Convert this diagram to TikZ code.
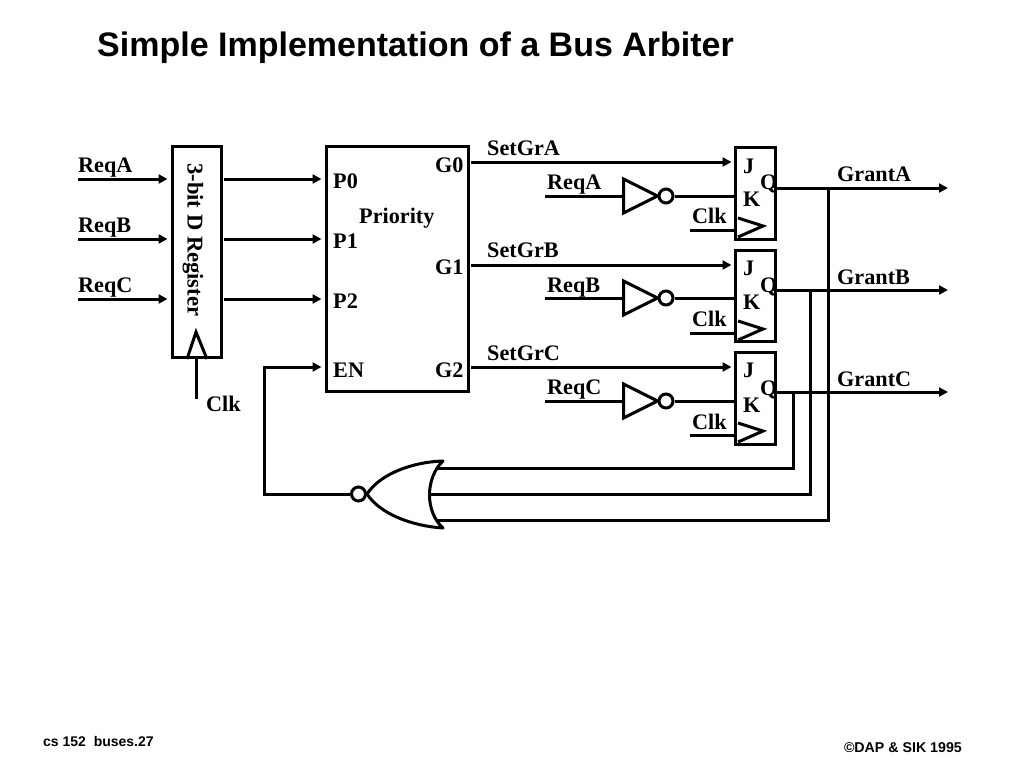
\documentclass[tikz,border=0pt]{standalone}
\usepackage{fontspec}
\setmainfont{Liberation Serif}
\newfontfamily\hvfont{Liberation Sans}
\usetikzlibrary{arrows.meta,shapes.geometric,calc}
\tikzset{
  wire/.style={line width=3pt,black},
  thinwire/.style={line width=3pt,black},
  arrowwire/.style={wire,-{Triangle[length=9pt,width=9pt]}},
  blockbox/.style={draw=black,line width=3pt,fill=white,rectangle,inner sep=0pt,minimum width=#1},
  lbl/.style={anchor=base west,inner sep=0pt,font=\fontsize{22.2}{26}\selectfont\bfseries},
  inverter/.style={draw=black,line width=3pt,isosceles triangle,isosceles triangle stretches,inner sep=0pt,minimum height=34pt,minimum width=34pt,anchor=west},
  bubble/.style={draw=black,line width=3pt,circle,inner sep=0pt,minimum size=14pt,fill=white},
  chevron/.style={line width=3pt,black,line join=miter}
}
\begin{document}
\begin{tikzpicture}[x=1pt,y=-1pt]
\useasboundingbox (0,0) rectangle (1024,768);
\node[anchor=base west,inner sep=0pt,font=\hvfont\bfseries\fontsize{34}{38}\selectfont] (title) at (97,56.5) {Simple Implementation of a Bus Arbiter};
% register and priority blocks
\node[blockbox=49pt,minimum height=211pt] (reg) at (196.5,251.5) {};
\node[blockbox=142pt,minimum height=245pt] (prio) at (397,268.5) {};
\node[lbl,rotate=-90,font=\fontsize{22.6}{26}\selectfont\bfseries] (regtxt) at (187.5,163) {3-bit D Register};
\node[lbl] (prioTxt) at (359,223) {Priority};
\coordinate (clkA) at (187,359);\coordinate (clkB) at (196,332);\coordinate (clkC) at (207,359);
\draw[chevron] (clkA) -- (clkB) -- (clkC);
\coordinate (regclk) at (196,399);
\draw[wire] (regclk) -- (196,359);
\node[lbl] (regclkl) at (206,411) {Clk};
% inputs to the register and on to the priority block
\foreach \n/\y/\ly/\pl/\ply in {A/179/172/P0/188,B/239/232/P1/248,C/299/292/P2/308}{
  \coordinate (in\n) at (78,\y);
  \coordinate (out\n) at (224,\y);
  \node[lbl] (inl\n) at (78,\ly) {Req\n};
  \node[lbl] (pl\n) at (333,\ply) {\pl};
  \draw[arrowwire,shorten >=3pt] (in\n) -- (in\n -| reg.west);
  \draw[arrowwire,shorten >=3pt] (out\n) -- (out\n -| prio.west);
}
\node[lbl] (enl) at (333,377) {EN};
\node[lbl] (g0) at (435,172) {G0};
\node[lbl] (g1) at (435,274) {G1};
\node[lbl] (g2) at (435,377) {G2};
% JK flip-flops
\foreach \n/\t/\h/\gy/\sy/\ry/\iy/\cy/\cl/\jy/\ky/\qy/\oy/\ol in {
  A/146/92/162/155/189/196/230/223/173/206/189/188/181,
  B/249/91/265/257/292/298/333/326/275/309/292/290/284,
  C/351/92/367/360/394/401/435/429/377/412/395/392/386}{
  \node[blockbox=40pt,minimum height=\h pt,anchor=north] (ff\n) at (755,\t) {};
  \coordinate (set\n) at (471,\gy);
  \draw[arrowwire,shorten >=2pt] (set\n) -- (set\n -| ff\n.west);
  \node[lbl] (setl\n) at (487,\sy) {SetGr\n};
  \coordinate (req\n) at (545,\iy);
  \node[lbl] (reql\n) at (547,\ry) {Req\n};
  \node[inverter] (inv\n) at (622,\iy) {};
  \node[bubble] (bub\n) at (666,\iy) {};
  \draw[thinwire] (req\n) -- (inv\n.west);
  \draw[thinwire] (bub\n) -- (bub\n -| ff\n.west);
  \coordinate (ck\n) at (690,\cy);
  \draw[thinwire] (ck\n) -- (ck\n -| ff\n.west);
  \node[lbl] (ckl\n) at (692,\cl) {Clk};
  \draw[chevron] (738,\cy-12) -- (763,\cy-4) -- (738,\cy+7);
  \node[lbl] (j\n) at (743,\jy) {J};
  \node[lbl] (k\n) at (743,\ky) {K};
  \node[lbl] (q\n) at (760,\qy) {Q};
  \coordinate (gr\n) at (948,\oy);
  \draw[arrowwire] (ff\n.east |- gr\n) -- (gr\n);
  \node[lbl] (grl\n) at (837,\ol) {Grant\n};
}
% NOR gate
\coordinate (nt) at (443,461);\coordinate (nb) at (443,528);\coordinate (nf) at (367,494);
\draw[wire,line join=round] (nt) .. controls (412,462) and (380,474) .. (nf)
   .. controls (380,514) and (412,526) .. (nb)
   .. controls (425,512) and (425,478) .. (nt) -- cycle;
\node[bubble] (nbub) at (358.5,494) {};
% feedback
\coordinate (tapA) at (828,188);\coordinate (tapB) at (810,290);\coordinate (tapC) at (793,392);
\coordinate (norC) at (436,468);\coordinate (norB) at (429,494);\coordinate (norA) at (436,520);
\draw[wire] (tapA) |- (norA);
\draw[wire] (tapB) |- (norB);
\draw[wire] (tapC) |- (norC);
\coordinate (fbcorner) at (264,494);
\draw[arrowwire,shorten >=3pt] (nbub) -- (fbcorner) |- (prio.west |- 0,367);
% footers
\node[anchor=base west,inner sep=0pt,font=\hvfont\bfseries\fontsize{14}{16}\selectfont] (foot1) at (43,746) {cs 152\ \ buses.27};
\node[anchor=base east,inner sep=0pt,font=\hvfont\bfseries\fontsize{14.2}{16}\selectfont] (foot2) at (962,752) {©DAP \& SIK 1995};
\end{tikzpicture}
\end{document}
